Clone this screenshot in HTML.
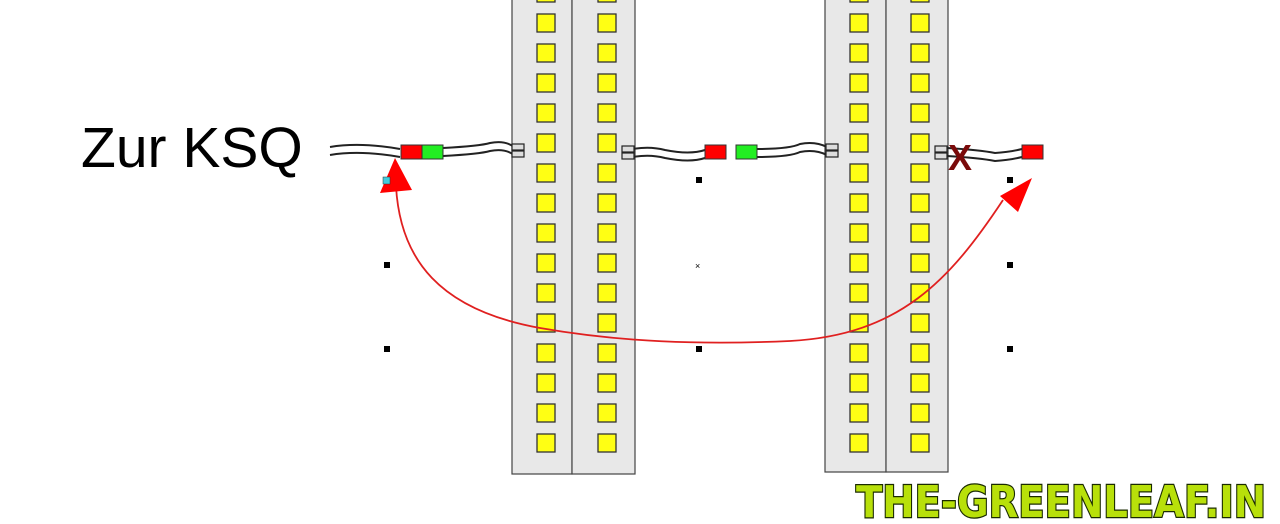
<!DOCTYPE html>
<html><head><meta charset="utf-8"><style>
html,body{margin:0;padding:0;background:#fff;width:1280px;height:524px;overflow:hidden}
</style></head><body>
<svg width="1280" height="524" xmlns="http://www.w3.org/2000/svg">
<rect width="1280" height="524" fill="#fff"/>
<text x="81" y="167" font-family="Liberation Sans, sans-serif" font-size="57" fill="#000">Zur KSQ</text>
<g fill="#e8e8e8" stroke="#444" stroke-width="1.2">
<rect x="512" y="-2" width="60" height="476"/>
<rect x="572" y="-2" width="63" height="476"/>
<rect x="825" y="-2" width="61" height="474"/>
<rect x="886" y="-2" width="62" height="474"/>
</g>
<g fill="#ffff14" stroke="#333" stroke-width="1.3" id="sq">
<rect x="537" y="-16" width="18" height="18"/><rect x="537" y="14" width="18" height="18"/><rect x="537" y="44" width="18" height="18"/><rect x="537" y="74" width="18" height="18"/><rect x="537" y="104" width="18" height="18"/><rect x="537" y="134" width="18" height="18"/><rect x="537" y="164" width="18" height="18"/><rect x="537" y="194" width="18" height="18"/><rect x="537" y="224" width="18" height="18"/><rect x="537" y="254" width="18" height="18"/><rect x="537" y="284" width="18" height="18"/><rect x="537" y="314" width="18" height="18"/><rect x="537" y="344" width="18" height="18"/><rect x="537" y="374" width="18" height="18"/><rect x="537" y="404" width="18" height="18"/><rect x="537" y="434" width="18" height="18"/>
</g>
<use href="#sq" x="61"/>
<use href="#sq" x="313"/>
<use href="#sq" x="374"/>
<g fill="none" stroke="#222" stroke-width="2">
<path d="M330 147 Q360 142 400 149 M330 155 Q360 150 400 157"/>
<path d="M443 148 Q480 146 490 143 Q505 140 514 147 M443 156 Q480 154 490 151 Q505 148 514 155"/>
<path d="M633 149 Q650 146 665 150 Q690 155 705 150 M633 157 Q650 154 665 158 Q690 163 705 158"/>
<path d="M756 149 Q790 149 800 144 Q815 141 827 147 M756 157 Q790 157 800 152 Q815 149 827 155"/>
<path d="M947 148 Q980 150 995 153 Q1010 152 1022 149 M947 156 Q980 158 995 161 Q1010 160 1022 157"/>
</g>
<g fill="#ddd" stroke="#222" stroke-width="1.2">
<rect x="512" y="144" width="12" height="6"/><rect x="512" y="151" width="12" height="6"/>
<rect x="622" y="146" width="12" height="6"/><rect x="622" y="153" width="12" height="6"/>
<rect x="826" y="144" width="12" height="6"/><rect x="826" y="151" width="12" height="6"/>
<rect x="935" y="146" width="12" height="6"/><rect x="935" y="153" width="12" height="6"/>
</g>
<g stroke="#333" stroke-width="1">
<rect x="401" y="145" width="21" height="14" fill="#f00"/>
<rect x="422" y="145" width="21" height="14" fill="#2e2"/>
<rect x="705" y="145" width="21" height="14" fill="#f00"/>
<rect x="736" y="145" width="21" height="14" fill="#2e2"/>
<rect x="1022" y="145" width="21" height="14" fill="#f00"/>
</g>
<text x="948" y="170" font-family="Liberation Sans, sans-serif" font-weight="bold" font-size="36" fill="#7a0a0a">X</text>
<g fill="#000">
<rect x="696" y="177" width="6" height="6"/><rect x="384" y="262" width="6" height="6"/><rect x="384" y="346" width="6" height="6"/>
<rect x="696" y="346" width="6" height="6"/><rect x="1007" y="262" width="6" height="6"/><rect x="1007" y="346" width="6" height="6"/><rect x="1007" y="177" width="6" height="6"/>
</g>
<text x="695" y="269" font-size="9" font-family="Liberation Sans, sans-serif">×</text>
<path d="M396 186 C400 260 440 310 540 328 C620 342 700 345 790 341 C900 335 950 280 1003 200" fill="none" stroke="#e02020" stroke-width="1.8"/>
<polygon points="395,158 380,193 412,190" fill="#f00"/>
<polygon points="1032,178 1000,196 1018,212" fill="#f00"/>
<rect x="383" y="177" width="7" height="7" fill="#4cd" stroke="#333" stroke-width="0.5"/>
<text x="856" y="517" font-family="DejaVu Sans, sans-serif" font-weight="bold" font-size="44" fill="#b8e00a" stroke="#1a2a00" stroke-width="2.5" paint-order="stroke" textLength="410" lengthAdjust="spacingAndGlyphs">THE-GREENLEAF.IN</text>
</svg>
</body></html>
